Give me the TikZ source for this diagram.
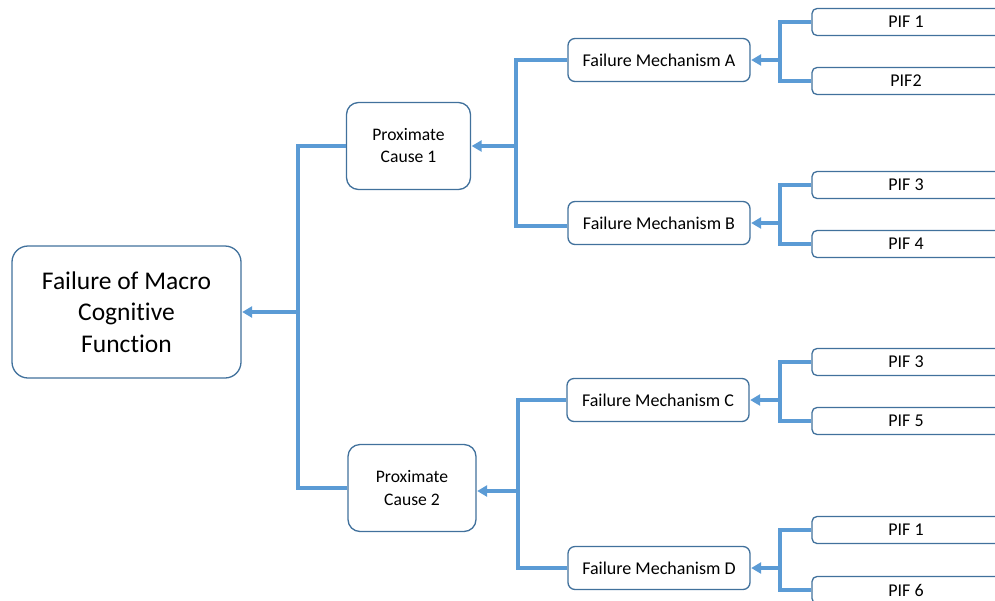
\documentclass[tikz,border=0pt]{standalone}
\usepackage{fontspec}
\setmainfont[Ligatures=NoCommon]{Carlito}
\usetikzlibrary{arrows.meta}
\definecolor{linkblue}{HTML}{5B9BD5}
\definecolor{edgeblue}{HTML}{41719C}
\tikzset{
  box/.style={draw=edgeblue, line width=1.3pt, fill=white, align=center, inner sep=0pt},
  mainbox/.style={box, minimum width=229pt, minimum height=132pt, rounded corners=16pt,
    font=\fontsize{25.5}{31.5}\selectfont},
  causebox/.style={box, minimum width=124pt, minimum height=87pt, rounded corners=12pt,
    font=\fontsize{17.6}{22}\selectfont},
  mechbox/.style={box, minimum width=182pt, minimum height=43pt, rounded corners=7pt,
    font=\fontsize{18}{22}\selectfont},
  pifbox/.style={box, minimum width=188pt, minimum height=27pt, rounded corners=5pt,
    font=\fontsize{18}{22}\selectfont},
  link/.style={draw=linkblue, line width=3.5pt},
  linkarrow/.style={link, -{Triangle[length=10pt,width=11pt]}, shorten >=0.5pt}
}
\begin{document}
\begin{tikzpicture}[x=1pt, y=-1pt]
\useasboundingbox (0,0) rectangle (995,600);
\clip (0,0) rectangle (995,600);

% nodes
\node[mainbox]  (top) at (126.5,312) {Failure of Macro\\Cognitive\\Function};
\node[causebox] (pc1) at (408.5,146) {Proximate\\Cause 1};
\node[causebox, minimum width=128pt] (pc2) at (412,488) {Proximate\\Cause 2};

\node[mechbox] (fmA) at (659,60)  {Failure Mechanism A};
\node[mechbox] (fmB) at (659,223) {Failure Mechanism B};
\node[mechbox] (fmC) at (658,400) {Failure Mechanism C};
\node[mechbox] (fmD) at (659,568) {Failure Mechanism D};

\node[pifbox] (pA1) at (906,22)  {PIF 1};
\node[pifbox] (pA2) at (906,81)  {PIF2};
\node[pifbox] (pB1) at (906,185) {PIF 3};
\node[pifbox] (pB2) at (906,244) {PIF 4};
\node[pifbox] (pC1) at (906,362) {PIF 3};
\node[pifbox] (pC2) at (906,421) {PIF 5};
\node[pifbox] (pD1) at (906,530) {PIF 1};
\node[pifbox] (pD2) at (906,590) {PIF 6};

% junction points of the brackets
\coordinate (jTop) at (298,312);
\coordinate (j1)   at (516,146);
\coordinate (j2)   at (518,491);
\coordinate (jA)   at (780,60);
\coordinate (jB)   at (780,223);
\coordinate (jC)   at (780,400);
\coordinate (jD)   at (780,568);

% causes into the top event
\draw[link] (pc1.west) -| (jTop);
\draw[link] (pc2.west) -| (jTop);
\draw[linkarrow] (jTop) -- (top.east);

% mechanisms into the causes
\draw[link] (fmA.west) -| (j1);
\draw[link] ([yshift=-3pt]fmB.west) -| (j1);
\draw[linkarrow] (j1) -- (pc1.east |- j1);
\draw[link] (fmC.west) -| (j2);
\draw[link] (fmD.west) -| (j2);
\draw[linkarrow] (j2) -- (pc2.east |- j2);

% factors into the mechanisms
\foreach \m in {A,B,C,D}{
  \draw[link] (p\m1.west) -| (j\m);
  \draw[link] (p\m2.west) -| (j\m);
  \draw[linkarrow] (j\m) -- (fm\m.east);
}
\end{tikzpicture}
\end{document}
